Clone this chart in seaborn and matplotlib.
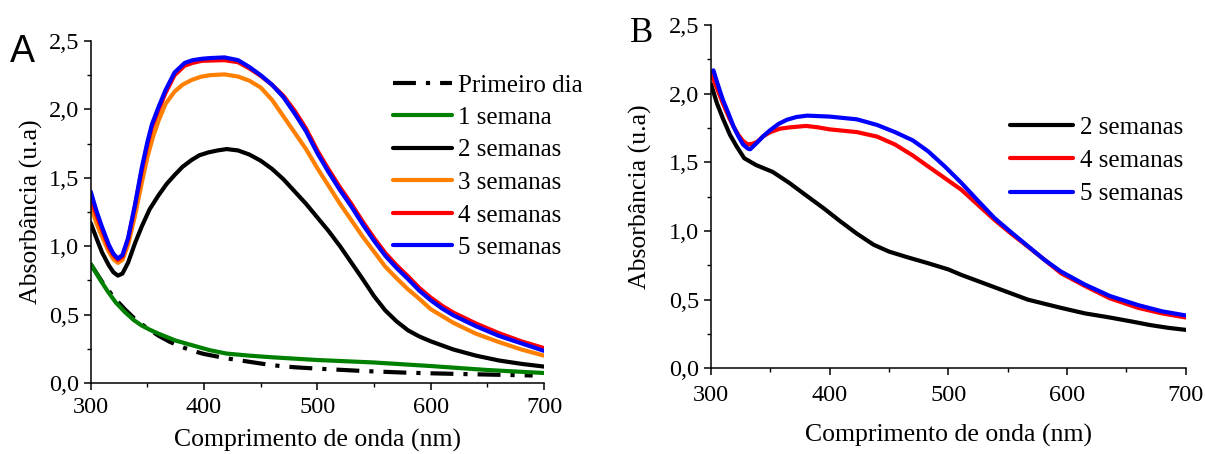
import numpy as np
import pandas as pd
import matplotlib
matplotlib.use("Agg")
import matplotlib.pyplot as plt
import seaborn as sns
from matplotlib.ticker import MultipleLocator, FuncFormatter

# ---------------- Panel A data ----------------
a_dia_x = [300, 310, 320, 330, 340, 350, 360, 370, 380, 390, 400, 420, 440, 460, 480, 500, 540, 580, 620, 660, 690]
a_dia_y = [0.87, 0.74, 0.63, 0.54, 0.46, 0.40, 0.345, 0.30, 0.265, 0.235, 0.212, 0.18, 0.155, 0.13, 0.115, 0.105, 0.088, 0.075, 0.067, 0.06, 0.055]

a_s1_x = [300, 308, 315, 322, 330, 338, 345, 352, 360, 375, 390, 405, 420, 440, 460, 500, 550, 600, 650, 700]
a_s1_y = [0.87, 0.76, 0.67, 0.59, 0.52, 0.46, 0.42, 0.39, 0.36, 0.31, 0.275, 0.24, 0.215, 0.20, 0.188, 0.168, 0.15, 0.124, 0.095, 0.073]

a_s2_x = [300, 305, 310, 316, 320, 324, 328, 333, 339, 345, 352, 360, 367, 374, 381, 389, 396, 404, 412, 420,
          430, 440, 450, 460, 470, 480, 490, 500, 510, 520, 530, 540, 550, 560, 570, 580, 590, 600, 620, 640, 660, 680, 700]
a_s2_y = [1.17, 1.06, 0.955, 0.86, 0.81, 0.785, 0.80, 0.88, 1.02, 1.143, 1.27, 1.374, 1.455, 1.52, 1.58, 1.63, 1.665, 1.686, 1.70, 1.71,
          1.70, 1.67, 1.625, 1.565, 1.49, 1.40, 1.31, 1.21, 1.11, 1.00, 0.88, 0.76, 0.635, 0.53, 0.45, 0.385, 0.34, 0.305, 0.245, 0.20, 0.165, 0.14, 0.12]

a_s3_x = [300, 305, 310, 316, 320, 324, 328, 333, 339, 345, 350, 355, 360, 366, 374, 381, 389, 397, 405, 418,
          430, 440, 450, 460, 470, 480, 490, 500, 510, 520, 530, 540, 550, 560, 570, 580, 590, 600, 610, 620, 640, 660, 680, 700]
a_s3_y = [1.30, 1.17, 1.07, 0.96, 0.905, 0.878, 0.90, 1.01, 1.22, 1.46, 1.65, 1.80, 1.92, 2.04, 2.13, 2.18, 2.215, 2.238, 2.25, 2.256,
          2.24, 2.21, 2.16, 2.07, 1.95, 1.83, 1.71, 1.57, 1.44, 1.31, 1.19, 1.07, 0.96, 0.85, 0.765, 0.685, 0.615, 0.54, 0.49, 0.44, 0.36, 0.30, 0.245, 0.20]

a_s4_x = [300, 305, 310, 316, 320, 324, 328, 333, 339, 345, 350, 354, 360, 366, 374, 383, 390, 398, 405, 418,
          430, 440, 450, 460, 470, 480, 490, 500, 510, 520, 530, 540, 550, 560, 570, 580, 590, 600, 610, 620, 640, 660, 680, 700]
a_s4_y = [1.35, 1.23, 1.12, 0.99, 0.935, 0.90, 0.925, 1.05, 1.29, 1.55, 1.74, 1.87, 2.00, 2.12, 2.25, 2.32, 2.34, 2.355, 2.357, 2.36,
          2.345, 2.30, 2.245, 2.18, 2.10, 1.99, 1.86, 1.70, 1.56, 1.43, 1.31, 1.18, 1.06, 0.95, 0.86, 0.78, 0.695, 0.625, 0.565, 0.515, 0.435, 0.365, 0.305, 0.255]

a_s5_x = [300, 305, 310, 316, 320, 324, 328, 333, 339, 345, 350, 354, 360, 366, 374, 383, 390, 398, 405, 418,
          430, 440, 450, 460, 470, 480, 490, 500, 510, 520, 530, 540, 550, 560, 570, 580, 590, 600, 610, 620, 640, 660, 680, 700]
a_s5_y = [1.40, 1.26, 1.14, 1.01, 0.945, 0.91, 0.935, 1.06, 1.30, 1.57, 1.76, 1.89, 2.02, 2.14, 2.27, 2.34, 2.36, 2.37, 2.375, 2.38,
          2.36, 2.31, 2.25, 2.18, 2.09, 1.97, 1.84, 1.68, 1.54, 1.41, 1.29, 1.16, 1.04, 0.93, 0.84, 0.76, 0.675, 0.605, 0.545, 0.495, 0.415, 0.345, 0.29, 0.235]

# ---------------- Panel B data ----------------
b_s2_x = [300, 305, 310, 316, 322, 328, 338, 352, 366, 380, 395, 409, 423, 437, 450, 465, 483, 500, 511, 525, 539, 553, 567, 581, 595, 615, 636, 655, 670, 685, 700]
b_s2_y = [2.07, 1.93, 1.82, 1.70, 1.61, 1.53, 1.48, 1.43, 1.35, 1.26, 1.165, 1.07, 0.98, 0.90, 0.85, 0.81, 0.765, 0.72, 0.68, 0.635, 0.59, 0.545, 0.50, 0.47, 0.44, 0.40, 0.37, 0.34, 0.315, 0.295, 0.28]

b_s4_x = [300, 305, 310, 315, 319, 323, 327, 331, 335, 339, 344, 350, 358, 367, 380, 390, 400, 423, 440, 455, 470, 483, 497, 511, 525, 539, 553, 567, 581, 595, 615, 636, 660, 680, 700]
b_s4_y = [2.15, 2.04, 1.93, 1.83, 1.76, 1.70, 1.655, 1.63, 1.635, 1.65, 1.69, 1.72, 1.745, 1.755, 1.765, 1.755, 1.74, 1.72, 1.687, 1.63, 1.55, 1.47, 1.385, 1.30, 1.19, 1.08, 0.98, 0.886, 0.79, 0.692, 0.60, 0.51, 0.44, 0.40, 0.37]

b_s5_x = [302, 306, 310, 315, 319, 323, 327, 331, 333, 336, 339, 344, 350, 357, 364, 372, 381, 400, 423, 440, 455, 470, 483, 497, 511, 525, 539, 553, 567, 581, 595, 615, 636, 660, 680, 700]
b_s5_y = [2.17, 2.06, 1.955, 1.85, 1.76, 1.69, 1.63, 1.60, 1.595, 1.62, 1.645, 1.69, 1.735, 1.78, 1.81, 1.83, 1.84, 1.833, 1.813, 1.772, 1.72, 1.66, 1.58, 1.47, 1.35, 1.22, 1.093, 0.99, 0.89, 0.79, 0.704, 0.61, 0.527, 0.46, 0.415, 0.385]

labels_a = ["Primeiro dia", "1 semana", "2 semanas", "3 semanas", "4 semanas", "5 semanas"]
labels_b = ["2 semanas", "4 semanas", "5 semanas"]
x_ticks = [300, 400, 500, 600, 700]
y_ticks = [0.0, 0.5, 1.0, 1.5, 2.0, 2.5]

# ---------------- style ----------------
sns.set_style("ticks")
plt.rcParams['font.family'] = ['Liberation Serif', 'DejaVu Serif']
plt.rcParams.update({
    'text.color': 'black', 'axes.labelcolor': 'black', 'axes.edgecolor': 'black',
    'xtick.color': 'black', 'ytick.color': 'black',
})

GREEN = '#008000'
ORANGE = '#FF8000'
RED = '#FF0000'
BLUE = '#0000FF'
LW = 3.0

fig = plt.figure(figsize=(12.05, 4.54), dpi=100)
axA = fig.add_axes([90.7 / 1205, 1 - 383 / 454, (544 - 90.7) / 1205, (383 - 41) / 454])
axB = fig.add_axes([711 / 1205, 1 - 368.3 / 454, (1185.7 - 711) / 1205, (368.3 - 25) / 454])

dashdot = (0, (5.5, 2.4, 1.0, 2.4))
series_a = [
    (a_dia_x, a_dia_y, 'black', dashdot),
    (a_s1_x, a_s1_y, GREEN, '-'),
    (a_s2_x, a_s2_y, 'black', '-'),
    (a_s3_x, a_s3_y, ORANGE, '-'),
    (a_s4_x, a_s4_y, RED, '-'),
    (a_s5_x, a_s5_y, BLUE, '-'),
]
for (xs, ys, c, ls), lab in zip(series_a, labels_a):
    sns.lineplot(x=xs, y=ys, ax=axA, color=c, linewidth=LW, linestyle=ls,
                 label=lab, sort=False, estimator=None)

series_b = [
    (b_s2_x, b_s2_y, 'black'),
    (b_s4_x, b_s4_y, RED),
    (b_s5_x, b_s5_y, BLUE),
]
for (xs, ys, c), lab in zip(series_b, labels_b):
    sns.lineplot(x=xs, y=ys, ax=axB, color=c, linewidth=LW,
                 label=lab, sort=False, estimator=None)

yfmt = FuncFormatter(lambda v, p: f"{v:.1f}".replace('.', ','))
for ax in (axA, axB):
    ax.set_xlim(300, 700)
    ax.set_ylim(0, 2.5)
    ax.set_xticks(x_ticks)
    ax.set_yticks(y_ticks)
    ax.xaxis.set_minor_locator(MultipleLocator(50))
    ax.yaxis.set_minor_locator(MultipleLocator(0.25))
    ax.yaxis.set_major_formatter(yfmt)
    sns.despine(ax=ax)
    for sp in ('left', 'bottom'):
        ax.spines[sp].set_linewidth(1.1)
        ax.spines[sp].set_color('black')
    ax.tick_params(which='major', direction='out', length=5, width=1.1, labelsize=17.5)
    ax.tick_params(which='minor', direction='out', length=3, width=1.0)
    ax.grid(False)

axA.tick_params(axis='x', which='major', pad=5)
axB.tick_params(axis='x', which='major', pad=7)
axA.set_xlabel("Comprimento de onda (nm)", fontsize=18.5, labelpad=8)
axB.set_xlabel("Comprimento de onda (nm)", fontsize=18.5, labelpad=13)
axA.set_ylabel("Absorbância (u.a)", fontsize=18.5, labelpad=4)
axB.set_ylabel("Absorbância (u.a)", fontsize=18.5, labelpad=12)

axA.legend(loc='upper left', bbox_to_anchor=((393 - 90.7) / 453.3, (383 - 74) / 342),
           frameon=False, fontsize=18, handlelength=2.35, handletextpad=0.25,
           labelspacing=0.40, borderpad=0, borderaxespad=0)
axB.legend(loc='upper left', bbox_to_anchor=((1010 - 711) / 474.7, (368.3 - 116) / 343.3),
           frameon=False, fontsize=18, handlelength=2.5, handletextpad=0.3,
           labelspacing=0.44, borderpad=0, borderaxespad=0)

fig.text(10 / 1205, 1 - 62 / 454, "A", family=['Liberation Sans', 'DejaVu Sans'],
         fontsize=27, va='baseline', ha='left')
fig.text(630 / 1205, 1 - 42 / 454, "B", fontsize=25, va='baseline', ha='left')

fig.savefig("out.png", dpi=100)
